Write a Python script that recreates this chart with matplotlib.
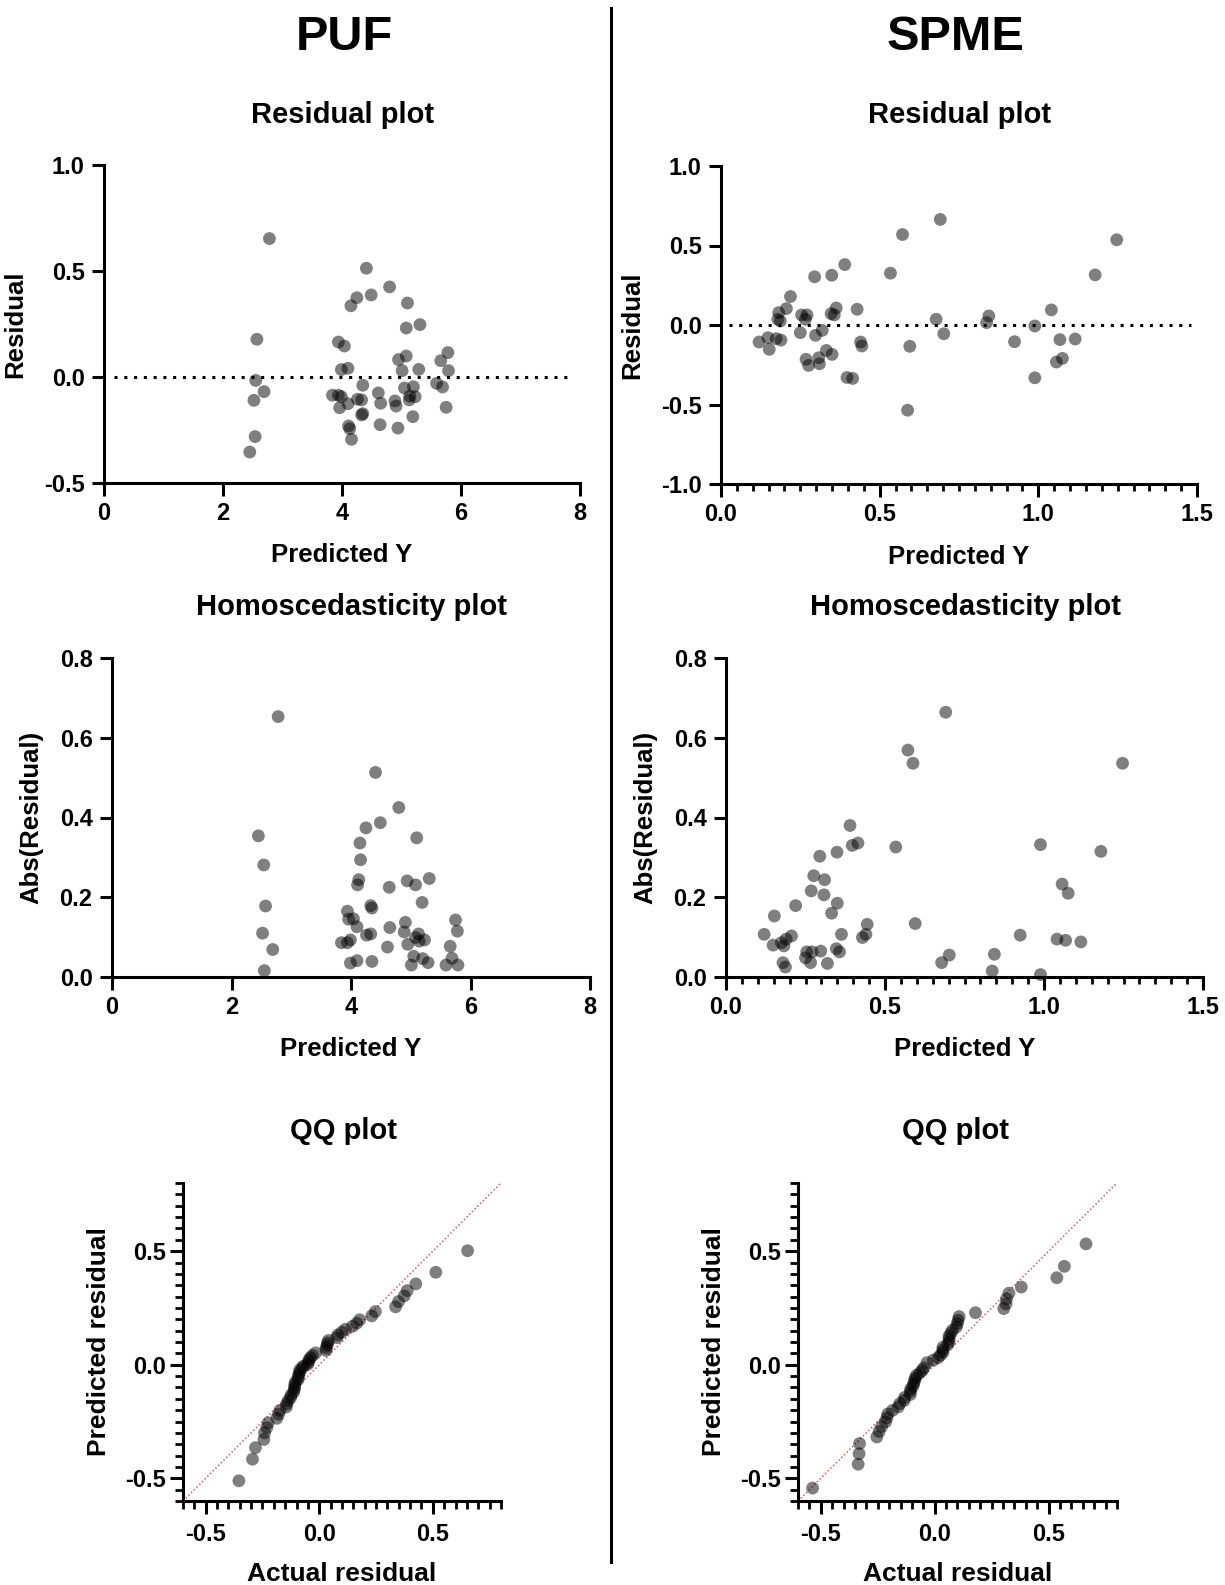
import matplotlib.pyplot as plt
from matplotlib.lines import Line2D
from matplotlib.ticker import MultipleLocator, FormatStrFormatter
import numpy as np

plt.rcParams['font.family'] = ['Liberation Sans', 'DejaVu Sans']
plt.rcParams['font.weight'] = 'bold'
plt.rcParams['axes.labelweight'] = 'bold'
plt.rcParams['axes.unicode_minus'] = False

# ---- data ----
puf_pred_y = [2.78, 4.41, 4.80, 4.49, 4.25, 4.15, 5.10, 5.08, 5.31, 2.57, 3.94, 4.04, 5.78, 5.66,
              5.08, 4.95, 5.79, 5.29, 5.01, 4.10, 3.99, 2.55, 2.69, 2.52, 4.35, 5.59, 5.69, 5.05,
              5.20, 3.84, 3.94, 3.99, 4.10, 3.96, 4.26, 4.33, 4.61, 4.65, 4.89, 4.91, 5.13, 5.23,
              5.14, 4.35, 4.33, 5.75, 5.19, 4.64, 4.94, 4.11, 4.13, 4.16, 2.54, 2.45]
puf_resid = [0.653, 0.513, 0.425, 0.387, 0.374, 0.336, 0.349, 0.231, 0.247, 0.178, 0.165, 0.146,
             0.115, 0.077, 0.099, 0.082, 0.030, 0.036, 0.030, 0.041, 0.035, -0.016, -0.069, -0.110,
             -0.039, -0.030, -0.047, -0.052, -0.046, -0.086, -0.086, -0.093, -0.126, -0.145, -0.105,
             -0.108, -0.075, -0.124, -0.113, -0.137, -0.108, -0.093, -0.090, -0.173, -0.179, -0.143,
             -0.187, -0.225, -0.241, -0.231, -0.244, -0.294, -0.281, -0.354]

spme_pred_y = [0.691, 0.572, 1.247, 0.390, 0.534, 1.179, 0.295, 0.349, 0.219, 0.206, 0.182, 0.179,
               0.187, 0.254, 0.271, 0.266, 0.363, 0.347, 0.357, 0.429, 1.041, 0.678, 0.844, 0.837,
               0.989, 0.702, 0.120, 0.148, 0.152, 0.174, 0.189, 0.250, 0.298, 0.319, 0.440, 0.444,
               0.595, 0.925, 1.068, 1.116, 0.268, 0.276, 0.308, 0.310, 0.332, 0.350, 1.057, 1.076,
               0.397, 0.415, 0.989, 0.588]
spme_resid = [0.664, 0.569, 0.536, 0.380, 0.326, 0.315, 0.303, 0.313, 0.179, 0.103, 0.078, 0.036,
              0.025, 0.063, 0.063, 0.036, 0.107, 0.071, 0.063, 0.099, 0.095, 0.036, 0.057, 0.015,
              -0.006, -0.055, -0.107, -0.080, -0.153, -0.086, -0.095, -0.048, -0.065, -0.034, -0.107,
              -0.132, -0.134, -0.105, -0.092, -0.088, -0.216, -0.254, -0.206, -0.244, -0.160, -0.185,
              -0.233, -0.210, -0.330, -0.336, -0.332, -0.536]

puf_qq_actual = [-0.354, -0.294, -0.281, -0.244, -0.241, -0.231, -0.225, -0.187, -0.179, -0.173,
                 -0.145, -0.143, -0.137, -0.126, -0.124, -0.113, -0.110, -0.108, -0.108, -0.105,
                 -0.093, -0.093, -0.090, -0.086, -0.086, -0.075, -0.069, -0.052, -0.047, -0.046,
                 -0.039, -0.030, -0.016, 0.030, 0.030, 0.035, 0.036, 0.041, 0.077, 0.082, 0.099,
                 0.115, 0.146, 0.165, 0.178, 0.231, 0.247, 0.336, 0.349, 0.374, 0.387, 0.425,
                 0.513, 0.653]
puf_qq_pred = [-0.511, -0.416, -0.365, -0.329, -0.300, -0.277, -0.256, -0.236, -0.218, -0.201,
               -0.186, -0.172, -0.158, -0.145, -0.133, -0.121, -0.109, -0.098, -0.087, -0.076,
               -0.065, -0.054, -0.043, -0.033, -0.023, -0.013, -0.006, 0.001, 0.011, 0.021,
               0.031, 0.041, 0.052, 0.063, 0.074, 0.085, 0.096, 0.107, 0.119, 0.131, 0.143,
               0.156, 0.169, 0.183, 0.198, 0.215, 0.234, 0.255, 0.278, 0.303, 0.326, 0.356,
               0.407, 0.502]

spme_qq_actual = [-0.536, -0.336, -0.332, -0.330, -0.254, -0.244, -0.233, -0.216, -0.210, -0.206,
                  -0.185, -0.160, -0.153, -0.134, -0.132, -0.107, -0.107, -0.105, -0.095, -0.092,
                  -0.088, -0.086, -0.080, -0.065, -0.055, -0.048, -0.034, -0.006, 0.015, 0.025,
                  0.036, 0.036, 0.036, 0.057, 0.063, 0.063, 0.063, 0.071, 0.078, 0.095,
                  0.099, 0.103, 0.107, 0.179, 0.303, 0.313, 0.315, 0.326, 0.380, 0.536,
                  0.569, 0.664]
spme_qq_pred = [-0.543, -0.438, -0.392, -0.347, -0.318, -0.294, -0.272, -0.252, -0.234, -0.217,
                -0.201, -0.186, -0.171, -0.157, -0.144, -0.131, -0.118, -0.106, -0.094, -0.082,
                -0.070, -0.059, -0.047, -0.036, -0.025, -0.014, 0.009, 0.020, 0.031, 0.042,
                0.054, 0.065, 0.077, 0.089, 0.101, 0.113, 0.126, 0.139, 0.152, 0.166,
                0.181, 0.196, 0.212, 0.229, 0.247, 0.268, 0.290, 0.315, 0.342, 0.383,
                0.433, 0.532]

W, H = 1225, 1585
fig = plt.figure(figsize=(W / 100, H / 100), dpi=100)


def px_axes(x0, y0, x1, y1):
    return fig.add_axes([x0 / W, 1 - y1 / H, (x1 - x0) / W, (y1 - y0) / H])


def style(ax, xlim, ylim, xmaj, ymaj, xfmt, yfmt, xmin=None, ymin=None, fs=17, maj=9, mnr=5, pad=5):
    ax.set_xlim(*xlim)
    ax.set_ylim(*ylim)
    for s in ['top', 'right']:
        ax.spines[s].set_visible(False)
    for s in ['left', 'bottom']:
        ax.spines[s].set_linewidth(2.2)
    ax.xaxis.set_major_locator(MultipleLocator(xmaj))
    ax.yaxis.set_major_locator(MultipleLocator(ymaj))
    ax.xaxis.set_major_formatter(FormatStrFormatter(xfmt))
    ax.yaxis.set_major_formatter(FormatStrFormatter(yfmt))
    if xmin:
        ax.xaxis.set_minor_locator(MultipleLocator(xmin))
    if ymin:
        ax.yaxis.set_minor_locator(MultipleLocator(ymin))
    ax.tick_params(which='major', length=maj, width=2.2, labelsize=fs, pad=pad)
    ax.tick_params(which='minor', length=mnr, width=2.0)
    for lab in ax.get_xticklabels() + ax.get_yticklabels():
        lab.set_fontweight('bold')


dot = dict(s=85, color='black', alpha=0.5, edgecolors='none', zorder=3, clip_on=False)
lab_fs = 18.5

# residual plots
ax1 = px_axes(104, 165, 580, 483)
ax1.scatter(puf_pred_y, puf_resid, **dot)
ax1.axhline(0, xmin=0.02, xmax=0.985, color='black', lw=2.2, ls=(0, (1, 2.2)))
style(ax1, (0, 8), (-0.5, 1.0), 2, 0.5, '%d', '%.1f')
ax1.set_xlabel('Predicted Y', fontsize=lab_fs, labelpad=13)
ax1.set_ylabel('Residual', fontsize=lab_fs, labelpad=12)

ax2 = px_axes(721, 166, 1197, 484)
ax2.scatter(spme_pred_y, spme_resid, **dot)
ax2.axhline(0, xmin=0.016, xmax=0.987, color='black', lw=2.2, ls=(0, (1, 2.2)))
style(ax2, (0, 1.5), (-1.0, 1.0), 0.5, 0.5, '%.1f', '%.1f', xmin=0.05)
ax2.set_xlabel('Predicted Y', fontsize=lab_fs, labelpad=13)
ax2.set_ylabel('Residual', fontsize=lab_fs, labelpad=12)

# homoscedasticity plots
ax3 = px_axes(112, 658, 590, 977)
ax3.scatter(puf_pred_y, np.abs(puf_resid), **dot)
style(ax3, (0, 8), (0, 0.8), 2, 0.2, '%d', '%.1f')
ax3.set_xlabel('Predicted Y', fontsize=lab_fs, labelpad=13)
ax3.set_ylabel('Abs(Residual)', fontsize=lab_fs, labelpad=12)

ax4 = px_axes(726, 658, 1203, 977)
ax4.scatter(spme_pred_y, np.abs(spme_resid), **dot)
style(ax4, (0, 1.5), (0, 0.8), 0.5, 0.2, '%.1f', '%.1f', xmin=0.05)
ax4.set_xlabel('Predicted Y', fontsize=lab_fs, labelpad=13)
ax4.set_ylabel('Abs(Residual)', fontsize=lab_fs, labelpad=12)

# QQ plots
for box, xa, ya in [((183, 1183, 501, 1501), puf_qq_actual, puf_qq_pred),
                    ((798, 1183, 1117, 1501), spme_qq_actual, spme_qq_pred)]:
    ax = px_axes(*box)
    ax.plot([-0.6, 0.8], [-0.6, 0.8], color='#d9595b', lw=1.1, ls=(0, (1, 1.5)), zorder=2)
    ax.scatter(xa, ya, **dot)
    style(ax, (-0.6, 0.8), (-0.6, 0.8), 0.5, 0.5, '%.1f', '%.1f', xmin=0.05, ymin=0.05,
          fs=17, maj=9.5, mnr=5.5, pad=6)
    ax.tick_params(axis='y', which='major', pad=3)
    ax.set_xlabel('Actual residual', fontsize=19, labelpad=12)
    ax.set_ylabel('Predicted residual', fontsize=19, labelpad=10)

# titles
fig.text(344 / W, 1 - 37 / H, 'PUF', fontsize=35, fontweight='bold', ha='center', va='center')
fig.text(955 / W, 1 - 37 / H, 'SPME', fontsize=35, fontweight='bold', ha='center', va='center')
for xc, yc, t in [(343, 115, 'Residual plot'), (960, 115, 'Residual plot'),
                  (352, 607, 'Homoscedasticity plot'), (966, 607, 'Homoscedasticity plot'),
                  (344, 1131, 'QQ plot'), (956, 1131, 'QQ plot')]:
    fig.text(xc / W, 1 - yc / H, t, fontsize=21, fontweight='bold', ha='center', va='center')

fig.add_artist(Line2D([611 / W, 611 / W], [1 - 8 / H, 1 - 1562 / H], color='black', lw=2.2,
                      transform=fig.transFigure))

fig.savefig('out.png', dpi=100)
